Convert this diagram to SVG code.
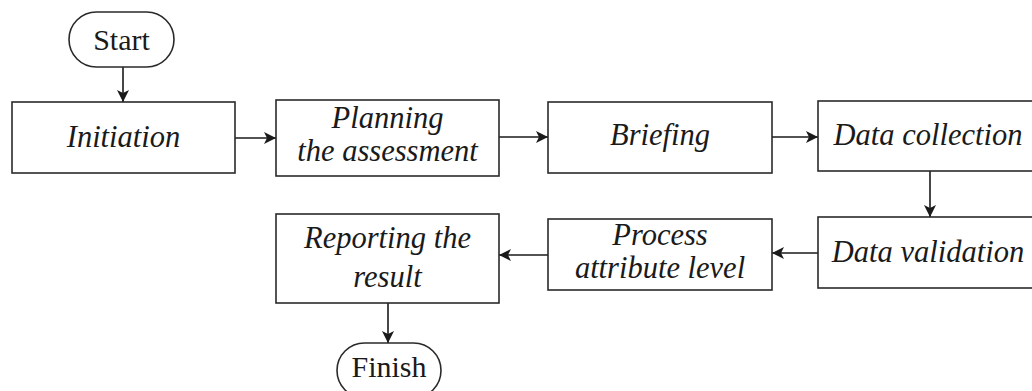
<svg xmlns="http://www.w3.org/2000/svg" width="1032" height="391" viewBox="0 0 1032 391">
<defs>
<marker id="ah" viewBox="0 0 12 12" refX="12" refY="6" markerWidth="12" markerHeight="12" markerUnits="userSpaceOnUse" orient="auto">
<path d="M0,0 L12,6 L0,12 L3,6 Z" fill="#1a1a1a"/>
</marker>
<style>
.box{fill:#fff;stroke:#2a2a2a;stroke-width:1.6}
.t{font-family:'Liberation Serif','DejaVu Serif',serif;font-style:italic;font-size:30.5px;fill:#1a1a1a;text-anchor:middle}
.p{font-family:'Liberation Serif','DejaVu Serif',serif;font-size:30px;fill:#1a1a1a;text-anchor:middle}
.c{stroke:#1a1a1a;stroke-width:1.6;fill:none;marker-end:url(#ah)}
</style>
</defs>
<rect width="1032" height="391" fill="#fff"/>
<g id="connectors">
<line class="c" x1="123" y1="67" x2="123" y2="102"/>
<line class="c" x1="235" y1="138" x2="276" y2="138"/>
<line class="c" x1="499" y1="137" x2="548" y2="137"/>
<line class="c" x1="772" y1="137" x2="818" y2="137"/>
<line class="c" x1="930" y1="171" x2="930" y2="217"/>
<line class="c" x1="818" y1="253" x2="772" y2="253"/>
<line class="c" x1="548" y1="255" x2="499" y2="255"/>
<line class="c" x1="388" y1="303" x2="388" y2="343"/>
</g>
<g id="start">
<rect class="box" x="69" y="12" width="105" height="55" rx="27.5"/>
<text class="p" x="121.5" y="50">Start</text>
</g>
<g id="initiation">
<rect class="box" x="12" y="102" width="223" height="71"/>
<text class="t" x="123.5" y="147">Initiation</text>
</g>
<g id="planning">
<rect class="box" x="276" y="100" width="223" height="76"/>
<text class="t" x="387.5" y="128">Planning</text>
<text class="t" x="387.5" y="161">the assessment</text>
</g>
<g id="briefing">
<rect class="box" x="548" y="102" width="224" height="71"/>
<text class="t" x="660" y="145">Briefing</text>
</g>
<g id="data-collection">
<rect class="box" x="818" y="101" width="222" height="70"/>
<text class="t" x="928" y="145">Data collection</text>
</g>
<g id="data-validation">
<rect class="box" x="818" y="217" width="222" height="71"/>
<text class="t" x="928" y="262">Data validation</text>
</g>
<g id="process-attribute">
<rect class="box" x="548" y="219" width="224" height="71"/>
<text class="t" x="660" y="245">Process</text>
<text class="t" x="660" y="278">attribute level</text>
</g>
<g id="reporting">
<rect class="box" x="276" y="214" width="223" height="89"/>
<text class="t" x="387.5" y="248">Reporting the</text>
<text class="t" x="387.5" y="287">result</text>
</g>
<g id="finish">
<rect class="box" x="337" y="343" width="104" height="55" rx="27.5"/>
<text class="p" x="389" y="377">Finish</text>
</g>
</svg>
